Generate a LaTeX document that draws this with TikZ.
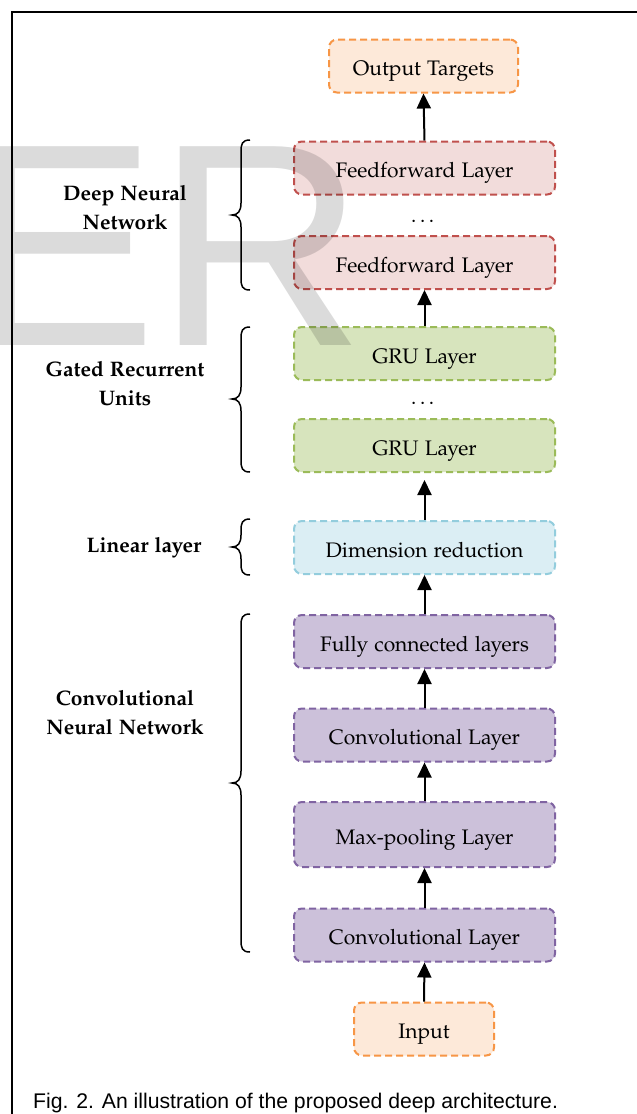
\documentclass[tikz,border=0pt]{standalone}
\usepackage[T1]{fontenc}
\usepackage{mathpazo}
\usepackage{fontspec}
\newfontfamily\arialfont{Liberation Sans}
\newcommand\pala{\fontencoding{T1}\fontfamily{pplx}\selectfont}
\usetikzlibrary{arrows.meta}
\definecolor{orFill}{HTML}{FDE9D9}
\definecolor{orLine}{HTML}{F79646}
\definecolor{rdFill}{HTML}{F2DCDB}
\definecolor{rdLine}{HTML}{C0504D}
\definecolor{gnFill}{HTML}{D7E4BD}
\definecolor{gnLine}{HTML}{9BBB59}
\definecolor{blFill}{HTML}{DBEEF4}
\definecolor{blLine}{HTML}{93CDDD}
\definecolor{puFill}{HTML}{CCC1DA}
\definecolor{puLine}{HTML}{8064A2}
\tikzset{
  layerbox/.style={rounded corners=8pt, line width=2pt, dash pattern=on 7pt off 4pt,
    minimum height=53pt, minimum width=261pt, inner sep=0pt,
    text height=22pt, text depth=2.6pt,
    font=\pala\fontsize{21}{25}\selectfont, text=black},
  orbox/.style={layerbox, draw=orLine, fill=orFill},
  rdbox/.style={layerbox, draw=rdLine, fill=rdFill},
  gnbox/.style={layerbox, draw=gnLine, fill=gnFill},
  blbox/.style={layerbox, draw=blLine, fill=blFill},
  pubox/.style={layerbox, draw=puLine, fill=puFill},
  arr/.style={line width=2pt, -{Triangle[length=15pt,width=14pt]}},
  grouplabel/.style={align=center, font=\pala\bfseries\fontsize{21}{29}\selectfont, inner sep=0pt},
  dotslabel/.style={font=\pala\fontsize{21}{25}\selectfont, inner sep=0pt},
  bracestyle/.style={line width=1.5pt}
}
\newcommand\mybrace[4]{% x-right, top, middle, bottom
  \draw[bracestyle] (#1,#2) .. controls (#1-8,#2) and (#1-9,#2+4) .. (#1-9,#2+12)
    -- (#1-9,#3-12) .. controls (#1-9,#3-4) and (#1-12,#3) .. (#1-18,#3)
    .. controls (#1-12,#3) and (#1-9,#3+4) .. (#1-9,#3+12)
    -- (#1-9,#4-12) .. controls (#1-9,#4-4) and (#1-8,#4) .. (#1,#4);}
\begin{document}
\begin{tikzpicture}[x=1pt,y=-1pt]
\useasboundingbox (0,0) rectangle (637,1114);
\clip (0,0) rectangle (637,1114);
\fill[white] (0,0) rectangle (637,1114);
% frame
\draw[line width=2pt] (12,1120) -- (12,12) -- (640,12);

% boxes
\node[orbox, minimum width=189pt] (out) at (423.5,66) {Output Targets};
\node[rdbox] (ff1) at (424.5,168) {Feedforward Layer};
\node[dotslabel] (d1) at (424.5,221) {\ldots};
\node[rdbox] (ff2) at (424.5,262.5) {Feedforward Layer};
\node[gnbox] (gru1) at (424.5,353.5) {GRU Layer};
\node[dotslabel] (d2) at (424.5,403) {\ldots};
\node[gnbox] (gru2) at (424.5,445.5) {GRU Layer};
\node[blbox] (dim) at (424.5,547.5) {Dimension reduction};
\node[pubox] (fc) at (424.5,641.5) {Fully connected layers};
\node[pubox] (conv1) at (424.5,735) {Convolutional Layer};
\node[pubox, minimum height=65pt] (pool) at (424.5,834.5) {Max-pooling Layer};
\node[pubox] (conv2) at (424.5,935) {Convolutional Layer};
\node[orbox, minimum width=140pt] (in) at (424,1029) {Input};

% arrows
\draw[arr] (ff1.north) -- (out.south);
\draw[arr] (gru1.north) -- (ff2.south);
\draw[arr, shorten >=7pt] (dim.north) -- (gru2.south);
\draw[arr] (fc.north) -- (dim.south);
\draw[arr] (conv1.north) -- (fc.south);
\draw[arr] (pool.north) -- (conv1.south);
\draw[arr] (conv2.north) -- (pool.south);
\draw[arr] (in.north) -- (conv2.south);

% braces
\mybrace{250}{140}{215}{290}
\mybrace{250}{327}{399}{472}
\mybrace{250}{519}{547}{575}
\mybrace{250}{614}{783}{952}

% group labels
\node[grouplabel] (l1) at (125,208) {Deep Neural\\Network};
\node[grouplabel] (l2) at (125,384) {Gated Recurrent\\Units};
\node[grouplabel] (l3) at (144,548) {Linear layer};
\node[grouplabel] (l4) at (125,713) {Convolutional\\Neural Network};

% caption
\node[anchor=base west, inner sep=0pt, font=\arialfont\fontsize{21.2}{25}\selectfont] (cap) at (33,1108) {Fig. 2. An illustration of the proposed deep architecture.};

% watermark
\node[anchor=base west, inner sep=0pt, font=\arialfont\fontsize{289}{289}\selectfont, text=black, text opacity=0.14] (wm) at (-36,345) {ER};
\end{tikzpicture}
\end{document}
